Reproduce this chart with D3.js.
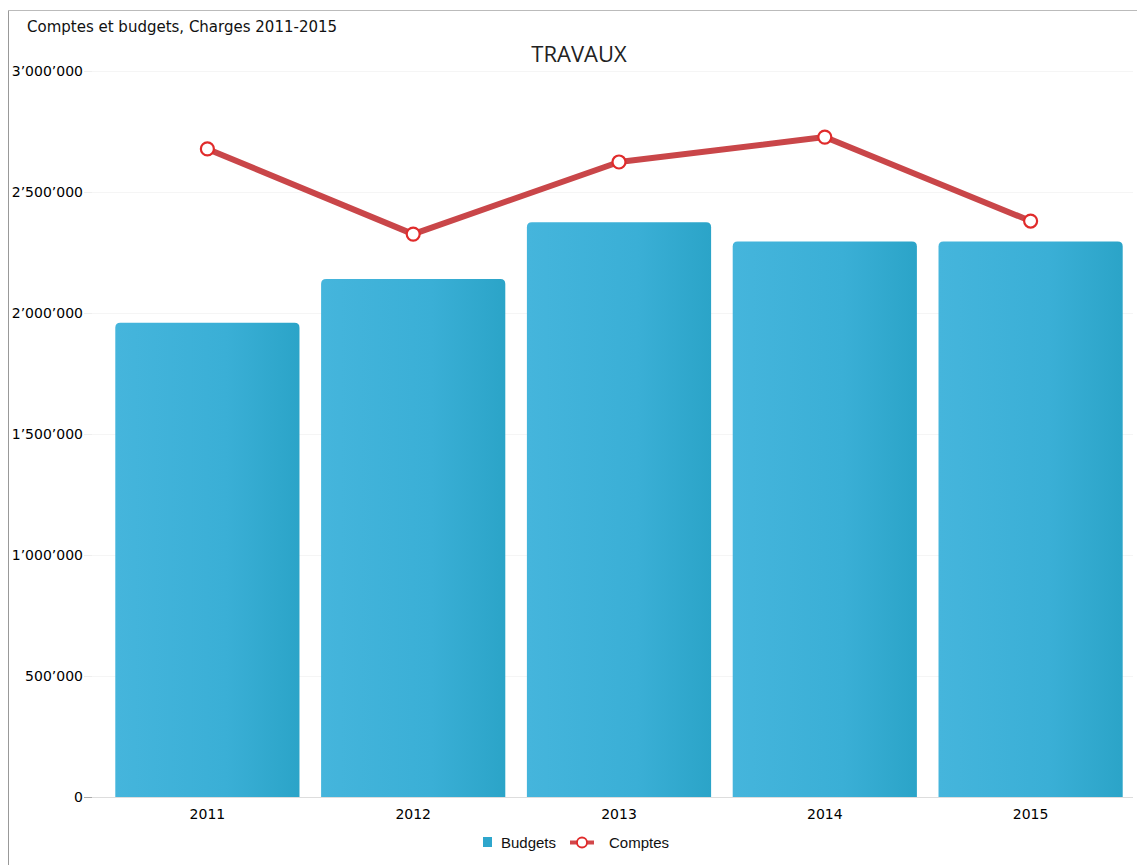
<!DOCTYPE html>
<html><head><meta charset="utf-8">
<script src="https://cdn.jsdelivr.net/npm/d3@7"></script>
<style>body{margin:0;background:#fff}svg{display:block}</style>
</head><body>
<svg id="c" width="1137" height="865"></svg>
<script>
const years = ["2011","2012","2013","2014","2015"];
const budgets = [1960000, 2140000, 2375000, 2295000, 2295000];
const comptes = [2678000, 2326000, 2624000, 2727000, 2380000];
const yTicks = [0, 500000, 1000000, 1500000, 2000000, 2500000, 3000000];
const headerText = "Comptes et budgets, Charges 2011-2015";
const titleText = "TRAVAUX";
const legendLabels = ["Budgets", "Comptes"];

const svg = d3.select("#c");
const x = d3.scaleBand().domain(years).range([105, 1133]).paddingInner(0.105).paddingOuter(0.05);
const y = d3.scaleLinear().domain([0, 3000000]).range([797, 71]);
const fmt = v => v === 0 ? "0" : d3.format(",")(v).replace(/,/g, "\u2019");

// frame
svg.append("line").attr("x1",8.5).attr("x2",8.5).attr("y1",10).attr("y2",865).attr("stroke","#999").attr("stroke-width",1);
svg.append("line").attr("x1",8).attr("x2",1137).attr("y1",10.5).attr("y2",10.5).attr("stroke","#bbb").attr("stroke-width",1);

const defs = svg.append("defs");
const g = defs.append("linearGradient").attr("id","barg").attr("x1","0").attr("x2","1").attr("y1","0").attr("y2","0");
g.append("stop").attr("offset","0").attr("stop-color","#45b5dc");
g.append("stop").attr("offset","0.6").attr("stop-color","#3aafd6");
g.append("stop").attr("offset","1").attr("stop-color","#2ba4c8");

// gridlines
svg.append("g").selectAll("line").data(yTicks.filter(d=>d>0)).join("line")
  .attr("x1",92).attr("x2",1133).attr("y1",d=>Math.round(y(d))+0.5).attr("y2",d=>Math.round(y(d))+0.5)
  .attr("stroke","#f5f5f5");

// y axis
const ya = svg.append("g").attr("transform","translate(92,0)")
  .call(d3.axisLeft(y).tickValues(yTicks).tickFormat(fmt).tickSize(8).tickPadding(1));
ya.select(".domain").remove();
ya.selectAll(".tick line").attr("stroke",d=>d===0?"#aaa":"#eee");
ya.selectAll("text").attr("font-family","DejaVu Sans, Verdana, sans-serif").attr("font-size",14).attr("fill","#000");

// baseline
svg.append("line").attr("x1",92).attr("x2",1133).attr("y1",797.5).attr("y2",797.5).attr("stroke","#ddd");

// bars with rounded top
const r = 5;
svg.append("g").selectAll("path").data(budgets).join("path")
  .attr("fill","url(#barg)")
  .attr("d",(d,i)=>{
    const x0 = x(years[i]), w = x.bandwidth(), y0 = y(d), yb = y(0);
    return `M${x0},${yb}V${y0+r}Q${x0},${y0} ${x0+r},${y0}H${x0+w-r}Q${x0+w},${y0} ${x0+w},${y0+r}V${yb}Z`;
  });

// x axis labels
const xa = svg.append("g").attr("transform","translate(0,797)")
  .call(d3.axisBottom(x).tickSize(0).tickPadding(12));
xa.select(".domain").remove();
xa.selectAll("text").attr("font-family","DejaVu Sans, Verdana, sans-serif").attr("font-size",14).attr("fill","#000");

// line
const cx = i => x(years[i]) + x.bandwidth()/2;
svg.append("path").datum(comptes)
  .attr("fill","none").attr("stroke","#c94649").attr("stroke-width",6).attr("stroke-linejoin","round")
  .attr("d", d3.line().x((d,i)=>cx(i)).y(d=>y(d)));
svg.append("g").selectAll("circle").data(comptes).join("circle")
  .attr("cx",(d,i)=>cx(i)).attr("cy",d=>y(d)).attr("r",6.5)
  .attr("fill","#fff").attr("stroke","#e02b2b").attr("stroke-width",2.2);

// header & title
svg.append("text").attr("x",27).attr("y",32).text(headerText)
  .attr("font-family","DejaVu Sans, Verdana, sans-serif").attr("font-size",15).attr("fill","#111");
svg.append("text").attr("x",579).attr("y",62).attr("text-anchor","middle").text(titleText)
  .attr("font-family","Open Sans, sans-serif").attr("font-size",22).attr("fill","#222");

// legend
const lg = svg.append("g").attr("font-family","Liberation Sans, Arial, sans-serif").attr("font-size",15).attr("fill","#111");
lg.append("rect").attr("x",483).attr("y",837).attr("width",9).attr("height",10).attr("fill","#2ea6cc");
lg.append("text").attr("x",501).attr("y",848).text(legendLabels[0]);
lg.append("line").attr("x1",570).attr("x2",594).attr("y1",842.5).attr("y2",842.5).attr("stroke","#d2474a").attr("stroke-width",4);
lg.append("circle").attr("cx",582).attr("cy",842.5).attr("r",5).attr("fill","#fff").attr("stroke","#e02b2b").attr("stroke-width",1.8);
lg.append("text").attr("x",609).attr("y",848).text(legendLabels[1]);
</script>
</body></html>
